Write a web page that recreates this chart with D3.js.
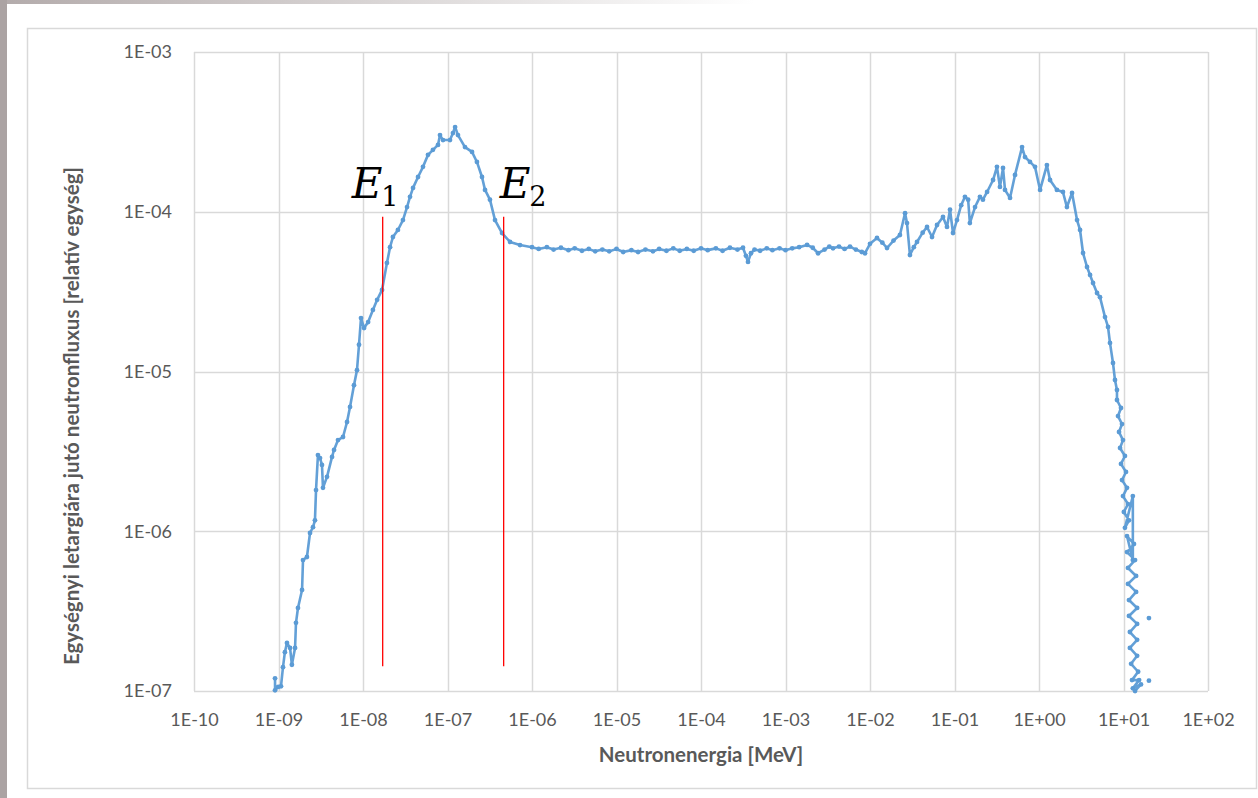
<!DOCTYPE html>
<html><head><meta charset="utf-8">
<script src="https://cdn.jsdelivr.net/npm/d3@7"></script>
<style>html,body{margin:0;padding:0;background:#fff;}svg{display:block;}</style>
</head><body>
<svg id="c" width="1258" height="798"></svg>
<script>
// Neutron energy [MeV]
const energy = [9.1e-10,9.1e-10,9.9e-10,1.07e-9,1.13e-9,1.19e-9,1.26e-9,1.37e-9,1.44e-9,1.57e-9,
1.61e-9,1.70e-9,1.90e-9,1.95e-9,2.17e-9,2.36e-9,2.56e-9,2.70e-9,2.78e-9,2.93e-9,
3.10e-9,3.27e-9,3.36e-9,3.75e-9,4.30e-9,4.54e-9,5.06e-9,5.80e-9,6.47e-9,7.02e-9,
7.82e-9,8.49e-9,8.97e-9,9.47e-9,1.03e-8,1.15e-8,1.31e-8,1.47e-8,1.68e-8,1.92e-8,
2.09e-8,2.26e-8,2.59e-8,2.97e-8,3.32e-8,3.60e-8,3.91e-8,4.48e-8,5.13e-8,5.88e-8,
6.73e-8,7.72e-8,8.15e-8,8.85e-8,1.07e-7,1.16e-7,1.23e-7,1.33e-7,1.61e-7,1.95e-7,
2.23e-7,2.56e-7,2.78e-7,3.18e-7,3.65e-7,4.42e-7,5.50e-7,7.21e-7,
1.0e-6,1.2e-6,1.5e-6,1.8e-6,2.2e-6,2.7e-6,3.2e-6,3.9e-6,4.7e-6,5.6e-6,
6.8e-6,8.2e-6,1.0e-5,1.2e-5,1.5e-5,1.8e-5,2.2e-5,2.7e-5,3.2e-5,3.9e-5,
4.7e-5,5.6e-5,6.8e-5,8.2e-5,1.0e-4,1.2e-4,1.5e-4,1.8e-4,2.2e-4,2.7e-4,
3.14e-4,3.4e-4,3.6e-4,3.9e-4,4.3e-4,5.0e-4,6.0e-4,7.0e-4,8.5e-4,1.0e-3,
1.2e-3,1.45e-3,1.8e-3,2.1e-3,2.43e-3,2.9e-3,3.3e-3,3.65e-3,4.3e-3,5.0e-3,
5.8e-3,6.8e-3,8.0e-3,8.73e-3,1.0e-2,1.21e-2,1.4e-2,
1.59e-2,1.9e-2,2.26e-2,2.6e-2,2.74e-2,2.97e-2,3.3e-2,3.6e-2,4.2e-2,4.73e-2,5.42e-2,6.21e-2,7.31e-2,
8.15e-2,8.85e-2,9.6e-2,0.107,0.12,0.133,0.145,0.152,0.175,0.2,0.217,
0.243,0.286,0.318,0.345,0.375,0.396,0.454,0.52,0.63,0.683,
0.782,0.897,1.03,1.24,1.35,1.63,1.92,2.14,2.46,2.82,
3.06,3.32,3.70,4.02,4.36,4.86,5.27,6.04,6.56,6.92,
7.51,7.93,8.37,
8.37,9.34,8.61,9.60,8.85,9.86,9.10,10.4,9.34,10.7,
9.60,11.0,9.86,11.3,10.1,11.6,10.4,12.9,12.9,11.0,
13.3,11.0,13.7,11.3,14.1,11.3,14.1,11.6,14.5,11.6,
14.5,11.9,14.5,11.9,14.5,12.3,14.9,12.6,15.3,12.9,
16.1,13.7];
// Flux per unit lethargy [relative]
const flux = [1.2e-7,1.01e-7,1.06e-7,1.07e-7,1.41e-7,1.75e-7,2.0e-7,1.86e-7,1.46e-7,1.86e-7,
2.67e-7,3.31e-7,4.29e-7,6.6e-7,6.9e-7,9.75e-7,1.06e-6,1.17e-6,1.81e-6,3.0e-6,
2.87e-6,2.6e-6,1.87e-6,2.19e-6,2.92e-6,3.23e-6,3.72e-6,3.89e-6,4.83e-6,6.0e-6,
8.2e-6,1.02e-5,1.47e-5,2.16e-5,1.87e-5,2.04e-5,2.43e-5,2.81e-5,3.24e-5,4.78e-5,
6.0e-5,6.95e-5,7.69e-5,8.87e-5,1.07e-4,1.24e-4,1.41e-4,1.65e-4,1.91e-4,2.27e-4,
2.44e-4,2.62e-4,3.02e-4,2.81e-4,2.81e-4,3.11e-4,3.39e-4,3.02e-4,2.54e-4,2.37e-4,
2.05e-4,1.65e-4,1.37e-4,1.19e-4,8.87e-5,7.36e-5,6.47e-5,6.19e-5,
6.0e-5,5.85e-5,6.0e-5,5.8e-5,5.95e-5,5.75e-5,5.9e-5,5.7e-5,5.85e-5,5.65e-5,
5.8e-5,5.65e-5,5.85e-5,5.6e-5,5.75e-5,5.6e-5,5.8e-5,5.65e-5,5.85e-5,5.7e-5,
5.9e-5,5.7e-5,5.85e-5,5.7e-5,5.9e-5,5.75e-5,5.9e-5,5.7e-5,5.95e-5,5.8e-5,
5.95e-5,5.3e-5,4.85e-5,5.5e-5,5.8e-5,5.7e-5,5.9e-5,5.75e-5,5.9e-5,5.75e-5,
5.9e-5,6.0e-5,6.2e-5,5.95e-5,5.5e-5,5.8e-5,6.05e-5,5.9e-5,6.05e-5,5.85e-5,
6.05e-5,5.8e-5,5.6e-5,5.5e-5,6.3e-5,6.85e-5,6.4e-5,
5.93e-5,6.6e-5,7.15e-5,9.8e-5,8.5e-5,5.36e-5,6.0e-5,6.47e-5,7.4e-5,8.03e-5,6.95e-5,8.26e-5,9.27e-5,
8.03e-5,1.03e-4,7.36e-5,8.87e-5,1.1e-4,1.24e-4,1.19e-4,8.5e-5,1.07e-4,1.24e-4,1.19e-4,
1.33e-4,1.58e-4,1.91e-4,1.43e-4,1.88e-4,1.37e-4,1.22e-4,1.70e-4,2.54e-4,2.2e-4,
2.05e-4,1.91e-4,1.37e-4,1.96e-4,1.58e-4,1.37e-4,1.33e-4,1.07e-4,1.31e-4,8.87e-5,
7.69e-5,5.52e-5,4.51e-5,4.02e-5,3.58e-5,3.1e-5,2.92e-5,2.19e-5,1.9e-5,1.51e-5,
1.13e-5,8.85e-6,7.66e-6,
6.63e-6,5.91e-6,5.26e-6,4.69e-6,4.18e-6,3.72e-6,3.32e-6,2.96e-6,2.64e-6,2.35e-6,
2.09e-6,1.87e-6,1.66e-6,1.48e-6,1.32e-6,1.17e-6,1.05e-6,1.66e-6,6.6e-7,9.33e-7,
8.32e-7,7.41e-7,6.6e-7,5.89e-7,5.25e-7,4.68e-7,4.17e-7,3.71e-7,3.31e-7,2.95e-7,
2.63e-7,2.34e-7,2.09e-7,1.86e-7,1.66e-7,1.48e-7,1.32e-7,1.17e-7,1.17e-7,1.04e-7,
1.1e-7,1.0e-7];
// Isolated (unconnected) points
const isoEnergy = [20.0, 20.0];
const isoFlux = [2.86e-7, 1.16e-7];
// Marker lines E1, E2
const markerEnergy = [1.71e-8, 4.62e-7];
const markerFluxRange = [1.43e-7, 9.3e-5];
const markerNames = ["1", "2"];
// Axis ticks
const xTickValues = [1e-10,1e-9,1e-8,1e-7,1e-6,1e-5,1e-4,1e-3,1e-2,1e-1,1e0,1e1,1e2];
const xTickLabels = ["1E-10","1E-09","1E-08","1E-07","1E-06","1E-05","1E-04","1E-03","1E-02","1E-01","1E+00","1E+01","1E+02"];
const yTickValues = [1e-7,1e-6,1e-5,1e-4,1e-3];
const yTickLabels = ["1E-07","1E-06","1E-05","1E-04","1E-03"];
const xTitle = "Neutronenergia [MeV]";
const yTitle = "Egységnyi letargiára jutó neutronfluxus [relatív egység]";

const svg = d3.select("#c");
const W = 1258, H = 798;
const L = 194, R = 1208, T = 52, B = 691;
const font = "Lato, 'Open Sans', sans-serif";
const txtCol = "#595959", gridCol = "#d9d9d9", blue = "#5b9bd5";

// backdrop
const defs = svg.append("defs");
const g1 = defs.append("linearGradient").attr("id","topg").attr("x1","0").attr("x2","1");
g1.append("stop").attr("offset","0").attr("stop-color","#b3abab");
g1.append("stop").attr("offset","0.6").attr("stop-color","#ffffff");
svg.append("rect").attr("x",0).attr("y",0).attr("width",W).attr("height",4).attr("fill","url(#topg)");
svg.append("rect").attr("x",0).attr("y",0).attr("width",7).attr("height",H).attr("fill","#aba3a3");
svg.append("rect").attr("x",27.5).attr("y",28.5).attr("width",1229).attr("height",760)
  .attr("fill","none").attr("stroke",gridCol).attr("stroke-width",1.5);

const x = d3.scaleLog().domain([1e-10,1e2]).range([L,R]);
const y = d3.scaleLog().domain([1e-7,1e-3]).range([B,T]);

// grid
const grid = svg.append("g").attr("stroke",gridCol).attr("stroke-width",1.5);
grid.selectAll("line.v").data(xTickValues).enter().append("line")
  .attr("x1",d=>Math.round(x(d))+0.5).attr("x2",d=>Math.round(x(d))+0.5).attr("y1",T).attr("y2",B);
grid.selectAll("line.h").data(yTickValues).enter().append("line")
  .attr("x1",L).attr("x2",R).attr("y1",d=>Math.round(y(d))+0.5).attr("y2",d=>Math.round(y(d))+0.5);

// axes (labels only)
const xAxis = d3.axisBottom(x).tickValues(xTickValues).tickFormat((d,i)=>xTickLabels[i]).tickSize(0).tickPadding(0);
const gx = svg.append("g").attr("transform",`translate(0,${B+29})`).call(xAxis);
gx.select(".domain").remove();
gx.selectAll("text").attr("font-family",font).attr("font-size",18).attr("fill",txtCol).attr("dy","0.35em");
const yAxis = d3.axisLeft(y).tickValues(yTickValues).tickFormat((d,i)=>yTickLabels[i]).tickSize(0).tickPadding(0);
const gy = svg.append("g").attr("transform",`translate(172,0)`).call(yAxis);
gy.select(".domain").remove();
gy.selectAll("text").attr("font-family",font).attr("font-size",18).attr("fill",txtCol);

// titles
svg.append("text").attr("x",701).attr("y",762).attr("text-anchor","middle")
  .attr("font-family",font).attr("font-weight","bold").attr("font-size",20.5).attr("fill",txtCol).text(xTitle);
svg.append("text").attr("transform","translate(79,416) rotate(-90)").attr("text-anchor","middle")
  .attr("font-family",font).attr("font-weight","bold").attr("font-size",20.5).attr("fill",txtCol).text(yTitle);

// data
const pts = energy.map((e,i)=>[e,flux[i]]);
const line = d3.line().x(d=>x(d[0])).y(d=>y(d[1]));
svg.append("path").datum(pts).attr("d",line).attr("fill","none").attr("stroke",blue)
  .attr("stroke-width",2.6).attr("stroke-linejoin","round").attr("opacity",0.95);
svg.append("g").selectAll("circle").data(pts.concat(isoEnergy.map((e,i)=>[e,isoFlux[i]]))).enter().append("circle")
  .attr("cx",d=>x(d[0])).attr("cy",d=>y(d[1])).attr("r",2.4).attr("fill",blue);

// E1/E2 markers
svg.append("g").selectAll("line").data(markerEnergy).enter().append("line")
  .attr("x1",d=>x(d)).attr("x2",d=>x(d)).attr("y1",y(markerFluxRange[0])).attr("y2",y(markerFluxRange[1]))
  .attr("stroke","#ff0000").attr("stroke-width",1.3);
const labelShift = [-31, -4];
markerEnergy.forEach((e,i)=>{
  const t = svg.append("text").attr("x",x(e)+labelShift[i]).attr("y",198).attr("font-family","'DejaVu Serif', serif")
    .attr("fill","#000");
  t.append("tspan").attr("font-style","italic").attr("font-size",42).attr("textLength",31).text("E");
  t.append("tspan").attr("font-size",27).attr("dy",8).attr("dx",-1).text(markerNames[i]);
});
</script>
</body></html>
